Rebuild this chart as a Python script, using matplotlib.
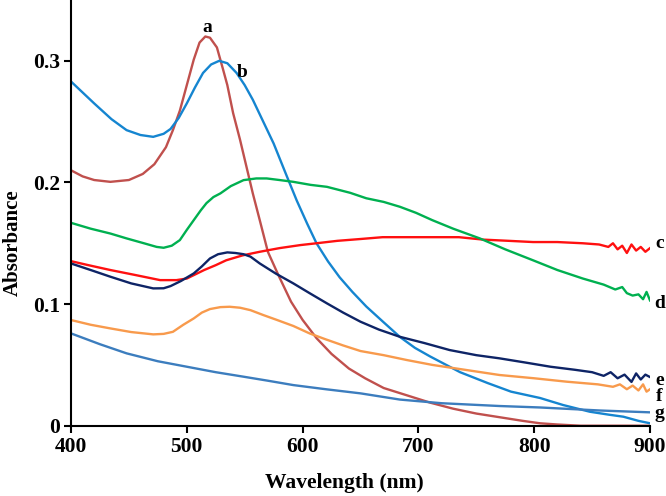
import numpy as np
import matplotlib
matplotlib.use("Agg")
import matplotlib.pyplot as plt

plt.rcParams['font.family'] = ['Liberation Serif', 'DejaVu Serif']
plt.rcParams['font.weight'] = 'bold'

# spectra (wavelength in nm, absorbance)
wl_a = [400, 410, 420, 434, 450, 462, 472, 482, 488, 494, 500, 506, 511, 516, 520, 526, 531, 535,
        540, 546, 552, 557, 563, 570, 579, 590, 600, 612, 625, 640, 654, 670, 690, 710, 730, 750,
        770, 790, 805, 820, 840, 870, 900]
abs_a = [0.210, 0.205, 0.202, 0.2005, 0.202, 0.207, 0.215, 0.229, 0.243, 0.259, 0.280, 0.301, 0.315,
         0.320, 0.319, 0.311, 0.294, 0.280, 0.257, 0.235, 0.211, 0.191, 0.169, 0.143, 0.124, 0.102,
         0.087, 0.072, 0.059, 0.047, 0.039, 0.031, 0.025, 0.019, 0.014, 0.010, 0.007, 0.004, 0.002,
         0.001, 0.0, 0.0, 0.0]

wl_b = [400, 410, 420, 435, 448, 460, 471, 480, 486, 493, 500, 507, 514, 521, 528, 535, 543, 550,
        557, 565, 575, 586, 595, 604, 612, 622, 632, 643, 655, 670, 684, 697, 710, 736, 760, 780,
        805, 825, 848, 865, 877, 890, 900]
abs_b = [0.283, 0.274, 0.265, 0.252, 0.243, 0.239, 0.2375, 0.240, 0.244, 0.253, 0.265, 0.278, 0.290,
         0.297, 0.300, 0.298, 0.290, 0.280, 0.268, 0.252, 0.232, 0.206, 0.185, 0.166, 0.150, 0.135,
         0.122, 0.110, 0.098, 0.085, 0.073, 0.064, 0.057, 0.044, 0.035, 0.028, 0.0228, 0.017, 0.0115,
         0.009, 0.0074, 0.004, 0.002]

wl_c = [400, 415, 434, 455, 477, 491, 500, 506, 515, 525, 534, 548, 563, 580, 598, 612, 630, 650,
        669, 690, 712, 735, 756, 778, 799, 820, 842, 856, 864, 868, 872, 876, 880, 884, 888, 892,
        896, 900]
abs_c = [0.1353, 0.132, 0.128, 0.124, 0.1197, 0.1197, 0.121, 0.1238, 0.128, 0.132, 0.136, 0.140,
         0.143, 0.146, 0.1485, 0.150, 0.152, 0.1535, 0.155, 0.155, 0.155, 0.155, 0.153, 0.152, 0.151,
         0.151, 0.150, 0.149, 0.147, 0.150, 0.145, 0.148, 0.142, 0.149, 0.144, 0.147, 0.143, 0.146]

wl_d = [400, 417, 434, 448, 463, 474, 480, 487, 494, 500, 506, 512, 517, 523, 529, 538, 549, 560,
        569, 580, 592, 607, 621, 641, 655, 670, 684, 698, 712, 730, 753, 775, 799, 820, 842, 860,
        870, 876, 880, 885, 890, 894, 897, 900]
abs_d = [0.1668, 0.162, 0.158, 0.154, 0.150, 0.147, 0.1463, 0.148, 0.1526, 0.161, 0.169, 0.177,
         0.183, 0.188, 0.191, 0.197, 0.2019, 0.2033, 0.2033, 0.202, 0.2005, 0.198, 0.1964, 0.1915,
         0.187, 0.184, 0.180, 0.175, 0.169, 0.162, 0.154, 0.145, 0.136, 0.128, 0.121, 0.116, 0.112,
         0.114, 0.109, 0.107, 0.108, 0.104, 0.110, 0.103]

wl_e = [400, 417, 434, 452, 471, 480, 486, 495, 506, 513, 520, 527, 535, 542, 549, 555, 563, 577,
        592, 606, 621, 635, 650, 666, 684, 705, 727, 750, 770, 792, 814, 835, 850, 860, 866, 872,
        878, 884, 888, 892, 896, 900]
abs_e = [0.1334, 0.128, 0.1225, 0.117, 0.1129, 0.113, 0.1148, 0.119, 0.1252, 0.131, 0.1375, 0.141,
         0.1425, 0.142, 0.141, 0.139, 0.1334, 0.125, 0.117, 0.109, 0.1006, 0.093, 0.0855, 0.079,
         0.0731, 0.068, 0.0622, 0.058, 0.0554, 0.052, 0.0485, 0.046, 0.044, 0.041, 0.044, 0.039,
         0.042, 0.036, 0.043, 0.038, 0.042, 0.040]

wl_f = [400, 417, 434, 452, 471, 480, 488, 497, 506, 513, 520, 529, 537, 546, 555, 566, 578, 592,
        606, 620, 635, 650, 670, 690, 712, 740, 770, 800, 828, 855, 868, 874, 880, 885, 890, 894,
        897, 900]
abs_f = [0.0869, 0.083, 0.080, 0.077, 0.0751, 0.0755, 0.0772, 0.083, 0.0882, 0.093, 0.0959, 0.0975,
         0.0978, 0.097, 0.095, 0.091, 0.0869, 0.082, 0.0759, 0.071, 0.066, 0.0614, 0.058, 0.054,
         0.050, 0.046, 0.0417, 0.039, 0.0362, 0.034, 0.032, 0.034, 0.030, 0.033, 0.029, 0.034,
         0.028, 0.030]

wl_g = [400, 425, 448, 475, 500, 525, 549, 570, 592, 620, 650, 684, 720, 770, 805, 857, 900]
abs_g = [0.0759, 0.067, 0.0595, 0.053, 0.0485, 0.044, 0.0403, 0.037, 0.0334, 0.030, 0.0266, 0.0215,
         0.0185, 0.0162, 0.0150, 0.0125, 0.011]

series = [
    ("a", wl_a, abs_a, "#C0504D"),
    ("b", wl_b, abs_b, "#1585D0"),
    ("c", wl_c, abs_c, "#FF1010"),
    ("d", wl_d, abs_d, "#00B050"),
    ("e", wl_e, abs_e, "#0E2466"),
    ("f", wl_f, abs_f, "#F89A4C"),
    ("g", wl_g, abs_g, "#3C7DBE"),
]

# where the letters sit (nm, absorbance)
label_pos = {
    "a": (517.4, 0.3276),
    "b": (547.7, 0.2903),
    "c": (908.0, 0.150),
    "d": (908.0, 0.1005),
    "e": (908.0, 0.0375),
    "f": (908.0, 0.0243),
    "g": (908.0, 0.0097),
}

fig = plt.figure(figsize=(6.66, 4.96), dpi=100)
ax = fig.add_axes([0.1066, 0.1417, 0.8694, 0.8583])

for name, wl, ab, col in series:
    ax.plot(wl, ab, color=col, lw=1.7, solid_joinstyle="round")
    x, y = label_pos[name]
    ax.text(x, y, name, fontsize=14, fontweight="bold", ha="center", va="center",
            clip_on=False)

ax.set_xlim(400, 900)
ax.set_ylim(0, 0.35)
ax.set_xticks([400, 500, 600, 700, 800, 900])
ax.set_yticks([0, 0.1, 0.2, 0.3])
ax.set_yticklabels(["0", "0.1", "0.2", "0.3"])

for s in ["top", "right"]:
    ax.spines[s].set_visible(False)
for s in ["left", "bottom"]:
    ax.spines[s].set_linewidth(1.5)
ax.tick_params(direction="out", length=4.8, width=1.5, labelsize=15.5, pad=3)

ax.set_xlabel("Wavelength (nm)", fontsize=15.5, fontweight="bold")
ax.set_ylabel("Absorbance", fontsize=15, fontweight="bold")
ax.xaxis.set_label_coords(0.4725, -0.112)
ax.yaxis.set_label_coords(-0.084, 0.43)

fig.savefig("out.png", dpi=100)
